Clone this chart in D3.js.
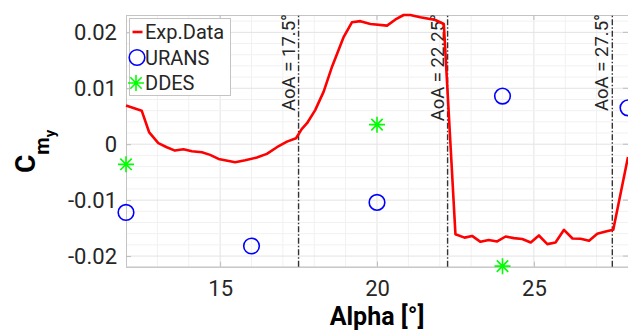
<!DOCTYPE html>
<html>
<head>
<meta charset="utf-8">
<script src="https://cdn.jsdelivr.net/npm/d3@7"></script>
<style>
	body { margin: 0; background: #fff; }
	text { font-family: Roboto, 'Liberation Sans', sans-serif; }
</style>
</head>
<body>
<script>
const expAlpha = [12.0, 12.5, 12.74, 13.03, 13.3, 13.56, 13.83, 14.1, 14.42, 14.68, 14.95, 15.48, 15.8, 16.17, 16.49, 16.81, 17.13, 17.42, 17.6, 17.77, 18.03, 18.3, 18.57, 18.94, 19.2, 19.47, 19.79, 20.32, 20.59, 20.85, 21.06, 21.38, 21.86, 22.13, 22.5, 22.79, 23.03, 23.3, 23.56, 23.83, 24.1, 24.36, 24.63, 24.9, 25.16, 25.43, 25.69, 25.96, 26.23, 26.49, 26.76, 27.02, 27.29, 27.53, 28.0];
const expCm = [0.0069, 0.006, 0.0021, 0.0002, -0.00054, -0.00114, -0.00089, -0.00125, -0.00143, -0.00191, -0.00263, -0.00321, -0.00286, -0.00239, -0.00173, -0.00054, 0.00046, 0.00107, 0.0027, 0.00375, 0.0061, 0.0094, 0.0139, 0.0192, 0.0218, 0.022, 0.0215, 0.0212, 0.0223, 0.0231, 0.0231, 0.0227, 0.0222, 0.0215, -0.0161, -0.0167, -0.0164, -0.01745, -0.01714, -0.01739, -0.0165, -0.01679, -0.01696, -0.01757, -0.01632, -0.01786, -0.01757, -0.0153, -0.01686, -0.01691, -0.01727, -0.01602, -0.0156, -0.0153, -0.0023];

const uransAlpha = [12, 16, 20, 24, 28];
const uransCm = [-0.0122, -0.0182, -0.0104, 0.0086, 0.0065];

const ddesAlpha = [12, 20, 24];
const ddesCm = [-0.0036, 0.0035, -0.0218];

const aoaValues = [17.5, 22.25, 27.5];
const aoaLabels = ['AoA = 17.5°', 'AoA = 22.25°', 'AoA = 27.5°'];

const xTicks = [15, 20, 25];
const yTicks = [-0.02, -0.01, 0, 0.01, 0.02];
const legendLabels = ['Exp.Data', 'URANS', 'DDES'];

const w = 628;
const h = 331;
const margin = { top: 15, bottom: 64.3, left: 126, right: 0 };

const x = d3.scaleLinear().domain([12, 28]).range([margin.left, w - margin.right]);
const y = d3.scaleLinear().domain([-0.0219, 0.0231]).range([h - margin.bottom, margin.top]);

const svg = d3.select('body').append('svg').attr('width', w).attr('height', h);

// grid: minor every 1 deg / 0.002, major at ticks
const minorX = d3.range(13, 28, 1);
const minorY = d3.range(-0.02, 0.0231, 0.002);
const grid = svg.append('g');
grid.selectAll('.gx').data(minorX).enter().append('line')
	.attr('x1', function(d) { return x(d); }).attr('x2', function(d) { return x(d); })
	.attr('y1', y.range()[0]).attr('y2', y.range()[1])
	.attr('stroke', function(d) { return xTicks.indexOf(d) >= 0 ? '#e3e3e3' : '#f1f1f1'; });
grid.selectAll('.gy').data(minorY).enter().append('line')
	.attr('x1', x.range()[0]).attr('x2', x.range()[1])
	.attr('y1', function(d) { return y(d); }).attr('y2', function(d) { return y(d); })
	.attr('stroke', function(d) { return Math.abs(Math.round(d * 1000) % 10) === 0 ? '#e3e3e3' : '#f1f1f1'; });

// box
svg.append('rect')
	.attr('x', x.range()[0] + 0.5).attr('y', y.range()[1] + 0.5)
	.attr('width', x.range()[1] - x.range()[0]).attr('height', y.range()[0] - y.range()[1])
	.attr('fill', 'none').attr('stroke', '#c4c4c4');

// axes
const xAxis = d3.axisBottom(x).tickValues(xTicks).tickSizeInner(-5).tickSizeOuter(0).tickPadding(10)
	.tickFormat(function(d) { return String(d); });
const yAxis = d3.axisLeft(y).tickValues(yTicks).tickSizeInner(-5).tickSizeOuter(0).tickPadding(9)
	.tickFormat(function(d) { return String(d); });

const gx = svg.append('g').attr('transform', 'translate(0,' + y.range()[0] + ')').call(xAxis);
const gy = svg.append('g').attr('transform', 'translate(' + x.range()[0] + ',0)').call(yAxis);
[gx, gy].forEach(function(g) {
	g.select('.domain').attr('stroke', '#c4c4c4');
	g.selectAll('.tick line').attr('stroke', '#bdbdbd');
	g.selectAll('.tick text').attr('fill', '#262626').style('font-size', '22px');
});
gx.selectAll('.tick text').attr('dy', '0.9em');

// inward ticks on the top and right sides
svg.selectAll('.ttop').data(xTicks).enter().append('line')
	.attr('x1', function(d) { return x(d); }).attr('x2', function(d) { return x(d); })
	.attr('y1', y.range()[1]).attr('y2', y.range()[1] + 5).attr('stroke', '#bdbdbd');
svg.selectAll('.tright').data(yTicks).enter().append('line')
	.attr('x1', x.range()[1] - 5).attr('x2', x.range()[1])
	.attr('y1', function(d) { return y(d); }).attr('y2', function(d) { return y(d); }).attr('stroke', '#bdbdbd');

// AoA reference lines
svg.selectAll('.aoa').data(aoaValues).enter().append('line')
	.attr('x1', function(d) { return x(d); }).attr('x2', function(d) { return x(d); })
	.attr('y1', y.range()[0]).attr('y2', y.range()[1])
	.attr('stroke', '#333').attr('stroke-width', 1.4).attr('stroke-dasharray', '6,2,1.5,2');
svg.selectAll('.aoa-label').data(aoaValues).enter().append('text')
	.attr('transform', function(d) { return 'translate(' + (x(d) - 4) + ',' + (y.range()[1] - 1) + ') rotate(-90)'; })
	.attr('text-anchor', 'end')
	.attr('fill', '#262626')
	.style('font-size', '18.5px')
	.text(function(d, i) { return aoaLabels[i]; });

// experimental line
const expData = expAlpha.map(function(a, i) { return [a, expCm[i]]; });
svg.append('path')
	.datum(expData)
	.attr('fill', 'none').attr('stroke', '#ff0000').attr('stroke-width', 2.6).attr('stroke-linejoin', 'round')
	.attr('d', d3.line().x(function(d) { return x(d[0]); }).y(function(d) { return y(d[1]); }));

// URANS markers
svg.selectAll('.urans').data(uransAlpha).enter().append('circle')
	.attr('cx', function(d) { return x(d); })
	.attr('cy', function(d, i) { return y(uransCm[i]); })
	.attr('r', 7.8).attr('fill', 'none').attr('stroke', '#0000ff').attr('stroke-width', 1.6);

// DDES markers (asterisk)
const star = 'M-8,0H8M0,-8V8M-5.7,-5.7L5.7,5.7M-5.7,5.7L5.7,-5.7';
svg.selectAll('.ddes').data(ddesAlpha).enter().append('path')
	.attr('transform', function(d, i) { return 'translate(' + x(d) + ',' + y(ddesCm[i]) + ')'; })
	.attr('d', star).attr('stroke', '#00ff00').attr('stroke-width', 1.6).attr('fill', 'none');

// legend
const legend = svg.append('g');
legend.append('rect').attr('x', 129.5).attr('y', 18.5).attr('width', 101).attr('height', 77)
	.attr('fill', '#fff').attr('stroke', '#c4c4c4');
const rows = [32, 57.5, 83];
legend.append('line').attr('x1', 132.5).attr('x2', 142.5).attr('y1', rows[0]).attr('y2', rows[0])
	.attr('stroke', '#ff0000').attr('stroke-width', 2.6);
legend.append('circle').attr('cx', 137).attr('cy', rows[1]).attr('r', 7.8)
	.attr('fill', 'none').attr('stroke', '#0000ff').attr('stroke-width', 1.6);
legend.append('path').attr('transform', 'translate(136,' + rows[2] + ')').attr('d', star)
	.attr('stroke', '#00ff00').attr('stroke-width', 1.6).attr('fill', 'none');
legend.selectAll('.leg-label').data(legendLabels).enter().append('text')
	.attr('x', 145).attr('y', function(d, i) { return rows[i]; })
	.attr('dy', '0.36em').attr('fill', '#262626').style('font-size', '20px')
	.text(function(d) { return d; });

// axis titles
svg.append('text')
	.attr('x', (x.range()[0] + x.range()[1]) / 2).attr('y', 325)
	.attr('text-anchor', 'middle').attr('fill', '#000')
	.style('font-size', '25px').style('font-weight', 'bold')
	.text('Alpha [°]');

const yTitle = svg.append('text')
	.attr('transform', 'translate(35,173) rotate(-90)')
	.attr('fill', '#000').style('font-weight', 'bold');
yTitle.append('tspan').style('font-size', '28px').text('C');
yTitle.append('tspan').attr('dy', 14).style('font-size', '20px').text('m');
yTitle.append('tspan').attr('dy', 6).style('font-size', '15px').text('y');
</script>
</body>
</html>
